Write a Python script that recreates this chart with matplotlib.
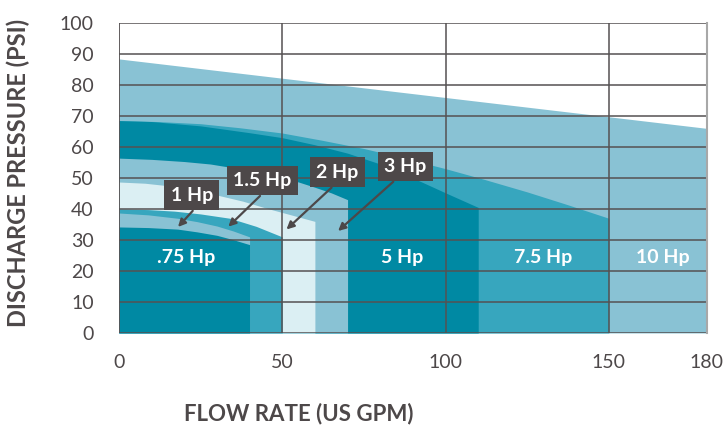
import matplotlib.pyplot as plt

# pump ranges: (flow gpm, pressure psi) along the top edge of each region
hp_10_flow = [0, 180]
hp_10_psi = [88.4, 66]
hp_7_5_flow = [0, 12, 25, 37, 50, 62, 75, 87, 100, 112, 125, 137, 150]
hp_7_5_psi = [68.5, 68.2, 67.5, 66.2, 64.5, 62.2, 59.5, 56.5, 53, 49.5, 45.5, 41.5, 37]
hp_5_flow = [0, 10, 25, 40, 50, 60, 70, 80, 90, 100, 110]
hp_5_psi = [68.5, 68.2, 66.8, 64.6, 63, 60.7, 58, 54.5, 50, 45.2, 40.5]
hp_3_flow = [0, 10, 20, 28, 35, 43, 50, 55, 60, 65, 70]
hp_3_psi = [56.4, 56, 55.3, 54.5, 53.3, 51.8, 50, 48.7, 47, 45.2, 43]
hp_2_flow = [0, 8, 15, 22, 30, 38, 45, 52, 60]
hp_2_psi = [48.7, 48.3, 47.5, 46.2, 44.5, 42.5, 40.3, 38.3, 36]
hp_1_5_flow = [0, 9, 17, 25, 34, 42, 50]
hp_1_5_psi = [40, 39.8, 39.3, 38.4, 37, 34.4, 31]
hp_1_flow = [0, 9, 18, 24, 30, 35, 40]
hp_1_psi = [38.7, 38.1, 37, 35.9, 34.5, 32.9, 31]
hp_075_flow = [0, 9, 18, 24, 30, 35, 40]
hp_075_psi = [34.2, 34, 33.5, 32.6, 31.5, 30.1, 28.5]

x_ticks = [0, 50, 100, 150, 180]
y_ticks = list(range(0, 101, 10))

DARK = "#0089a3"
MID = "#37a6be"
LIGHT = "#89c2d4"
PALE = "#dbeff3"
GREY = "#4d4849"

plt.rcParams['font.family'] = ['Lato', 'DejaVu Sans']

fig = plt.figure(figsize=(7.25, 4.25), dpi=100)
ax = fig.add_axes([0.164, 0.2165, 0.811, 0.7295])

regions = [
    (hp_10_flow, hp_10_psi, LIGHT),
    (hp_7_5_flow, hp_7_5_psi, MID),
    (hp_5_flow, hp_5_psi, DARK),
    (hp_3_flow, hp_3_psi, LIGHT),
    (hp_2_flow, hp_2_psi, PALE),
    (hp_1_5_flow, hp_1_5_psi, MID),
    (hp_1_flow, hp_1_psi, LIGHT),
    (hp_075_flow, hp_075_psi, DARK),
]
for i, (fx, fy, col) in enumerate(regions):
    ax.fill_between(fx, fy, 0, color=col, lw=0, zorder=1 + i)

ax.set_xlim(0, 180)
ax.set_ylim(0, 100)

# grid on top of the fills
for yv in y_ticks[1:]:
    ax.axhline(yv, color="#555152", lw=1.1, zorder=20)
for xv in [50, 100, 150]:
    ax.axvline(xv, color="#555152", lw=1.1, zorder=20)

for s in ["top", "bottom", "left"]:
    ax.spines[s].set_visible(False)
ax.spines["right"].set_color("#a8a8a8")
ax.spines["right"].set_linewidth(1.5)
ax.spines["right"].set_zorder(21)
ax.axvline(0, color="#555152", lw=1.3, zorder=21)
ax.axhline(0, color="#555152", lw=1.1, zorder=21)

ax.set_xticks(x_ticks)
ax.set_yticks(y_ticks)
ax.tick_params(length=0, labelsize=14, labelcolor=GREY)
ax.tick_params(axis="x", pad=15)
ax.tick_params(axis="y", pad=18)

# in-region labels
inner = [(".75 Hp", 20.5), ("5 Hp", 86.6), ("7.5 Hp", 129.8), ("10 Hp", 166.5)]
for txt, xv in inner:
    ax.text(xv, 24.5, txt, color="white", fontsize=14, fontweight="bold",
            ha="center", va="center", zorder=30)

# boxed labels with arrows
boxed = [
    ("1 Hp", (22.3, 44.4), (22.6, 39.4), (18.1, 34.2)),
    ("1.5 Hp", (43.9, 49.2), (43.2, 44.2), (33.5, 34.3)),
    ("2 Hp", (66.9, 51.8), (65.1, 46.9), (51.3, 33.4)),
    ("3 Hp", (87.7, 53.7), (84.0, 48.8), (67.1, 32.9)),
]
for txt, pos, start, tip in boxed:
    ax.annotate("", xy=tip, xytext=start, zorder=31,
                arrowprops=dict(arrowstyle="-|>", color=GREY, lw=1.6,
                                mutation_scale=11, shrinkA=0, shrinkB=0))
    ax.text(pos[0], pos[1], txt, color="white", fontsize=14, fontweight="bold",
            ha="center", va="center", zorder=32,
            bbox=dict(boxstyle="square,pad=0.33", fc=GREY, ec="none"))

fig.text(0.025, 0.593, "DISCHARGE PRESSURE (PSI)", rotation=90, ha="center",
         va="center", fontsize=17, fontweight="bold", color=GREY)
fig.text(0.412, 0.028, "FLOW RATE (US GPM)", ha="center", va="center",
         fontsize=16, fontweight="bold", color=GREY)

fig.savefig("out.png", dpi=100)
